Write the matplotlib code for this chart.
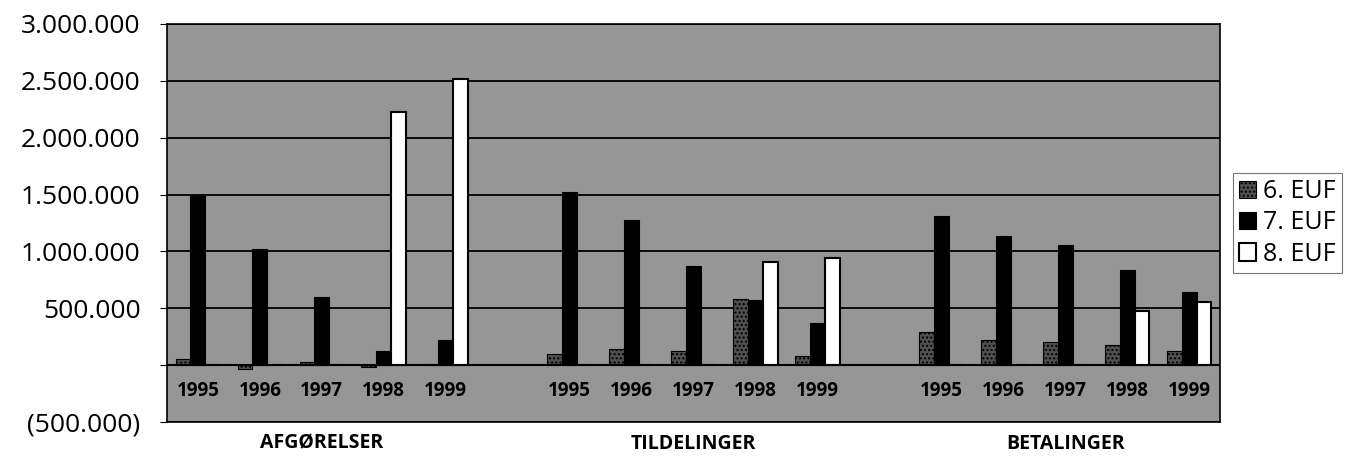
import numpy as np
import matplotlib.pyplot as plt

# data
groups = ["AFGØRELSER", "TILDELINGER", "BETALINGER"]
years = ["1995", "1996", "1997", "1998", "1999"]
series = ["6. EUF", "7. EUF", "8. EUF"]

euf6 = [50000, -30000, 30000, -15000, 10000,
        100000, 138000, 126000, 582000, 82000,
        288000, 220000, 200000, 176000, 126000]
euf7 = [1490000, 1020000, 603000, 126000, 220000,
        1520000, 1280000, 868000, 574000, 368000,
        1309000, 1132000, 1059000, 838000, 641000]
euf8 = [0, 0, 0, 2229000, 2520000,
        0, 0, 0, 906000, 941000,
        0, 0, 0, 479000, 553000]

yticks = [-500000, 0, 500000, 1000000, 1500000, 2000000, 2500000, 3000000]
ytick_labels = ["(500.000)", "", "500.000", "1.000.000", "1.500.000",
                "2.000.000", "2.500.000", "3.000.000"]

plt.rcParams['font.family'] = ['Open Sans', 'DejaVu Sans']

# x positions: 5 years per group, one empty slot between groups
xpos = []
for g in range(len(groups)):
    for i in range(len(years)):
        xpos.append(g * 6 + i)
xpos = np.array(xpos, dtype=float)

fig = plt.figure(figsize=(13.55, 4.74), dpi=100)
ax = fig.add_axes([0.1232, 0.1097, 0.7772, 0.8397])
ax.set_facecolor('#969696')

w = 0.24
ax.bar(xpos - w, euf6, w, color='#505050', edgecolor='black', hatch='....', linewidth=0.8, label=series[0], zorder=3)
ax.bar(xpos, euf7, w, color='black', edgecolor='black', linewidth=0.8, label=series[1], zorder=3)
ax.bar(xpos + w, euf8, w, color='white', edgecolor='black', linewidth=1.5, label=series[2], zorder=3)

ax.set_xlim(-0.5, 16.5)
ax.set_ylim(-500000, 3000000)
ax.set_yticks(yticks)
ax.set_yticklabels(ytick_labels, fontsize=19)
ax.tick_params(axis='y', length=5, pad=14)
ax.set_xticks([])
ax.grid(axis='y', color='black', linewidth=1.3, zorder=1)
ax.axhline(0, color='black', linewidth=1.5, zorder=4)
for s in ax.spines.values():
    s.set_linewidth(1.2)

# year labels inside the plot, under the zero line
for x, yr in zip(xpos, years * len(groups)):
    ax.text(x, -230000, yr, ha='center', va='center', fontsize=13.5, fontweight='bold', zorder=5)

# group labels below the plot
for g, name in enumerate(groups):
    ax.text(g * 6 + 2, -690000, name, ha='center', va='center', fontsize=14, fontweight='bold', clip_on=False)

leg = ax.legend(loc='center left', bbox_to_anchor=(1.012, 0.5), frameon=True, fontsize=18,
                handlelength=0.7, handleheight=0.7, handletextpad=0.25, borderpad=0.25,
                labelspacing=0.25, fancybox=False, edgecolor='#555555', borderaxespad=0)
leg.get_frame().set_linewidth(0.8)

fig.savefig("out.png", dpi=100)
